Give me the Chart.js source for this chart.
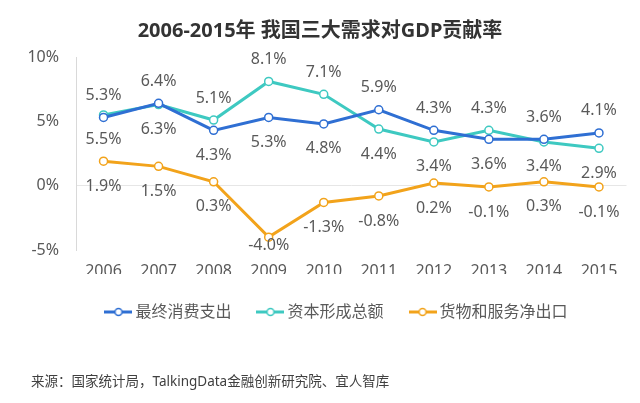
<!DOCTYPE html>
<html>
<head>
<meta charset="utf-8">
<script src="https://cdn.jsdelivr.net/npm/chart.js@4"></script>
<style>
html,body{margin:0;padding:0;background:#fff;}
canvas{display:block;}
</style>
</head>
<body>
<canvas id="c" width="640" height="403"></canvas>
<script>
const years = ['2006','2007','2008','2009','2010','2011','2012','2013','2014','2015'];
const consumption = [5.3, 6.4, 4.3, 5.3, 4.8, 5.9, 4.3, 3.6, 3.6, 4.1];
const capital = [5.5, 6.3, 5.1, 8.1, 7.1, 4.4, 3.4, 4.3, 3.4, 2.9];
const netExports = [1.9, 1.5, 0.3, -4.0, -1.3, -0.8, 0.2, -0.1, 0.3, -0.1];
const seriesNames = ['最终消费支出', '资本形成总额', '货物和服务净出口'];
const yTicks = [-5, 0, 5, 10];
const titleText = '2006-2015年 我国三大需求对GDP贡献率';
const sourceText = '来源：国家统计局，TalkingData金融创新研究院、宜人智库';

const colors = ['#2f6fd3', '#3ec9c1', '#f2a31b'];
const FONT = "'Noto Sans', 'Noto Sans CJK SC', sans-serif";
const TEXT = '#595959';

function marker(color) {
  const c = document.createElement('canvas');
  c.width = 28; c.height = 10;
  const g = c.getContext('2d');
  g.strokeStyle = color; g.lineWidth = 3;
  g.beginPath(); g.moveTo(0, 5); g.lineTo(28, 5); g.stroke();
  g.beginPath(); g.arc(14, 5, 3.5, 0, Math.PI * 2);
  g.fillStyle = '#fff'; g.fill();
  g.lineWidth = 1.5; g.stroke();
  return c;
}

const labelPlugin = {
  id: 'valueLabels',
  afterDatasetsDraw(chart) {
    const ctx = chart.ctx;
    const ds = chart.data.datasets;
    ctx.save();
    ctx.font = '16px ' + FONT;
    ctx.fillStyle = TEXT;
    ctx.textAlign = 'center';
    ctx.textBaseline = 'middle';
    ds.forEach((d, di) => {
      const meta = chart.getDatasetMeta(di);
      meta.data.forEach((pt, i) => {
        const v = d.data[i];
        let above;
        if (di === 2) above = false;
        else {
          // consumption label goes above unless clearly lower than capital formation
          const blueAbove = ds[0].data[i] >= ds[1].data[i] - 0.2;
          above = di === 0 ? blueAbove : !blueAbove;
        }
        let y = pt.y + (above ? -22 : 25);
        if (!above) y = Math.min(y, chart.chartArea.bottom - 5);
        ctx.fillText(v.toFixed(1) + '%', pt.x, y);
      });
    });
    ctx.restore();
  },
  afterLayout(chart) {
    if (chart.legend) {
      chart.legend.left += 18.5;
      chart.legend.right += 18.5;
    }
  },
  afterDraw(chart) {
    const ctx = chart.ctx;
    ctx.save();
    ctx.font = '13.5px ' + FONT;
    ctx.fillStyle = '#404040';
    ctx.textAlign = 'left';
    ctx.textBaseline = 'middle';
    ctx.fillText(sourceText, 31, 382);
    ctx.restore();
  }
};

const vals = [consumption, capital, netExports];
new Chart(document.getElementById('c'), {
  type: 'line',
  data: {
    labels: years,
    datasets: vals.map((v, i) => ({
      label: seriesNames[i],
      data: v,
      borderColor: colors[i],
      backgroundColor: colors[i],
      borderWidth: 3,
      tension: 0,
      pointRadius: 4,
      pointBorderWidth: 1.5,
      pointBackgroundColor: '#fff',
      pointBorderColor: colors[i],
      fill: false
    }))
  },
  options: {
    responsive: false,
    animation: false,
    devicePixelRatio: 1,
    layout: { padding: { left: 13.5, right: 13.5, top: 0, bottom: 73 } },
    plugins: {
      title: {
        display: true,
        text: titleText,
        color: '#333333',
        font: { family: FONT, size: 20, weight: 'bold' },
        padding: { top: 19, bottom: 14 }
      },
      legend: {
        position: 'bottom',
        labels: {
          font: { family: FONT, size: 16 },
          color: TEXT,
          padding: 30,
          usePointStyle: true,
          pointStyleWidth: 18,
          generateLabels(chart) {
            return chart.data.datasets.map((d, i) => ({
              text: d.label,
              pointStyle: marker(colors[i]),
              fillStyle: colors[i],
              strokeStyle: colors[i],
              lineWidth: 0,
              fontColor: TEXT,
              datasetIndex: i,
              hidden: false
            }));
          }
        }
      },
      tooltip: { enabled: false }
    },
    scales: {
      x: {
        offset: true,
        grid: { display: false, drawTicks: false },
        border: { display: false },
        ticks: { color: TEXT, font: { family: FONT, size: 16 }, padding: 12 },
        afterFit(s) { s.height = 24; }
      },
      y: {
        min: -5,
        max: 10,
        afterBuildTicks(s) { s.ticks = yTicks.map(v => ({ value: v })); },
        grid: {
          drawTicks: false,
          color: (c) => (c.tick && c.tick.value === 0 ? '#e6e6e6' : 'rgba(0,0,0,0)')
        },
        border: { display: true, color: '#d9d9d9', width: 1 },
        ticks: {
          color: TEXT,
          font: { family: FONT, size: 16 },
          padding: 17,
          callback: (v) => v + '%'
        },
        afterFit(s) { s.width = 62.5; }
      }
    }
  },
  plugins: [labelPlugin]
});
</script>
</body>
</html>
